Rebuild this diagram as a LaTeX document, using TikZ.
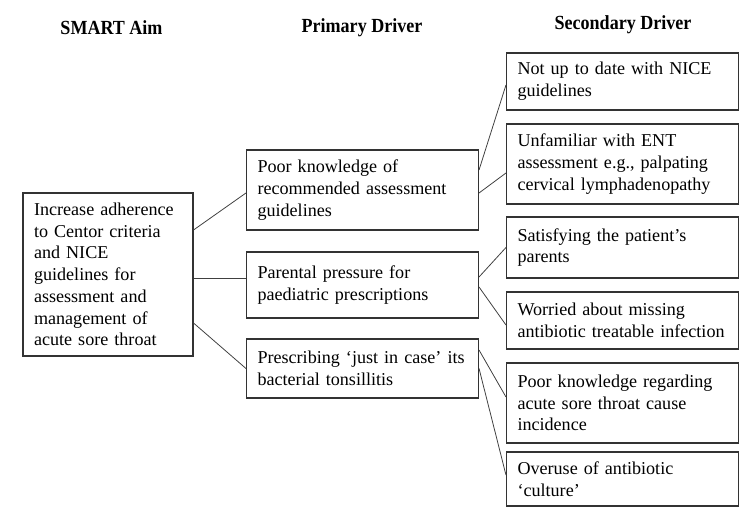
\documentclass[tikz,border=0pt]{standalone}
\usepackage{fontspec}
\setmainfont{Liberation Serif}
\newfontfamily\headfont{Liberation Serif}[FakeStretch=0.9]
\usepackage{tikz}
\usetikzlibrary{positioning}
\tikzstyle{heading} = [anchor=base, 
font=\headfont\fontsize{11.4}{13}\selectfont\bfseries]
\tikzstyle{aimbox} = [rectangle, 
draw=black!80, 
line width=0.6pt, 
inner xsep=0.22cm, 
text width=2.96cm, 
minimum height=3.26cm, 
align=left, 
font=\fontsize{10.3}{12.35}\selectfont]
\tikzstyle{driver} = [rectangle, 
draw=black!80, 
line width=0.6pt, 
inner xsep=0.22cm, 
text width=4.2cm, 
align=left, 
font=\fontsize{10.3}{12.35}\selectfont]
\tikzstyle{link} = [draw=black!75, line width=0.45pt]

\begin{document}
\begin{tikzpicture}
        \useasboundingbox (0,0) rectangle (15,-10.28);

        % column headings
        \node (haim) [heading] at (2.23,-0.70) {SMART Aim};
        \node (hprim) [heading] at (7.24,-0.66) {Primary Driver};
        \node (hsec) [heading] at (12.46,-0.60) {Secondary Driver};

        \node (aim) [aimbox] at (2.16,-5.49) 
        {Increase adherence\\ to Centor criteria\\ and NICE\\ guidelines for\\ assessment and\\ management of\\ acute sore throat};

        % primary drivers
        \node (prim1) [driver, minimum height=1.6cm] at (7.25,-3.80) 
        {Poor knowledge of\\ recommended assessment\\ guidelines};
        \node (prim2) [driver, minimum height=1.32cm] at (7.25,-5.70) 
        {Parental pressure for\\ paediatric prescriptions};
        \node (prim3) [driver, minimum height=1.18cm] at (7.25,-7.37) 
        {Prescribing `just in case' its\\ bacterial tonsillitis};

        % secondary drivers
        \node (sec1) [driver, minimum height=1.14cm] at (12.45,-1.63) 
        {Not up to date with NICE\\ guidelines};
        \node (sec2) [driver, minimum height=1.6cm] at (12.45,-3.28) 
        {Unfamiliar with ENT\\ assessment e.g., palpating\\ cervical lymphadenopathy};
        \node (sec3) [driver, minimum height=1.22cm] at (12.45,-4.95) 
        {Satisfying the patient's\\ parents};
        \node (sec4) [driver, minimum height=1.14cm] at (12.45,-6.41) 
        {Worried about missing\\ antibiotic treatable infection};
        \node (sec5) [driver, minimum height=1.6cm] at (12.45,-8.06) 
        {Poor knowledge regarding\\ acute sore throat cause\\ incidence};
        \node (sec6) [driver, minimum height=1.08cm] at (12.45,-9.58) 
        {Overuse of antibiotic\\ `culture'};

        \draw [link] ([yshift=0.89cm]aim.east) -- ([yshift=-0.06cm]prim1.west);
        \draw [link] ([yshift=-0.07cm]aim.east) -- ([yshift=-0.07cm]aim.east -| prim2.west);
        \draw [link] ([yshift=-0.97cm]aim.east) -- (prim3.west);

        \draw [link] ([yshift=0.40cm]prim1.east) -- ([yshift=-0.07cm]sec1.west);
        \draw [link] ([yshift=-0.06cm]prim1.east) -- ([yshift=-0.18cm]sec2.west);
        \draw [link] ([yshift=0.16cm]prim2.east) -- (sec3.west);
        \draw [link] ([yshift=-0.04cm]prim2.east) -- ([yshift=-0.09cm]sec4.west);
        \draw [link] ([yshift=0.37cm]prim3.east) -- ([yshift=0.12cm]sec5.west);
        \draw [link] (prim3.east) -- ([yshift=0.08cm]sec6.west);

\end{tikzpicture}
\end{document}
